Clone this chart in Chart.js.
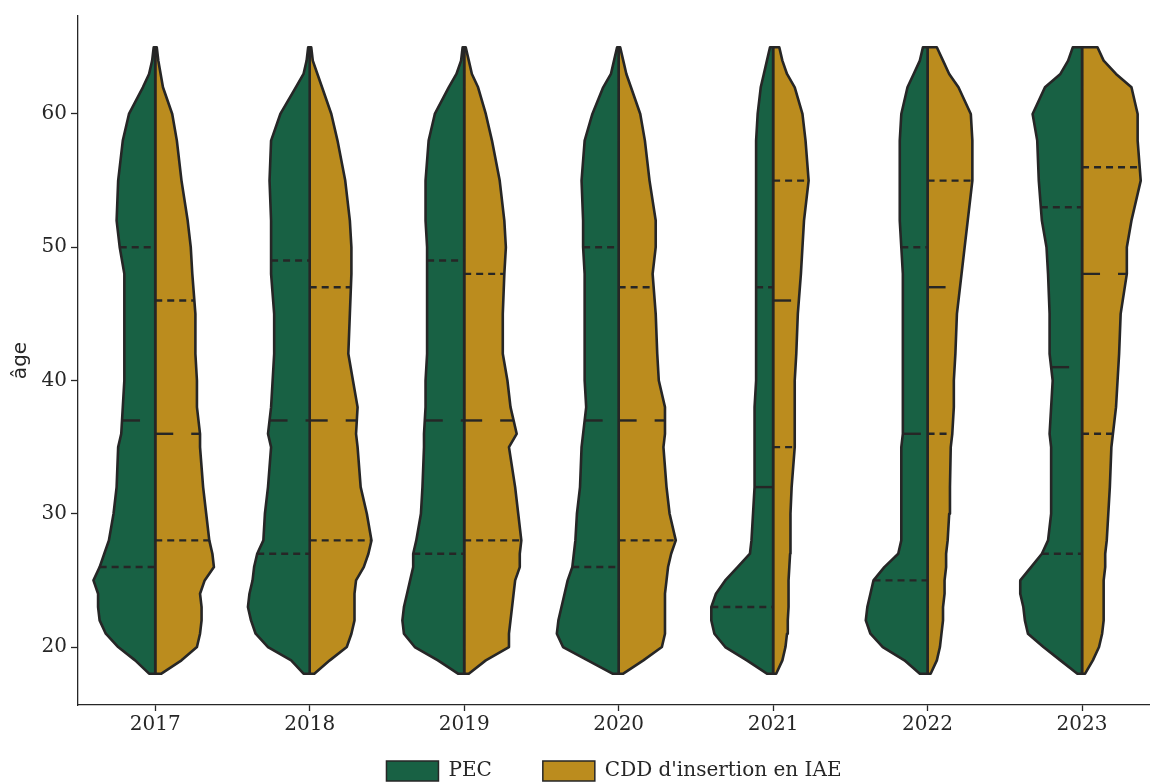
<!DOCTYPE html>
<html><head><meta charset="utf-8">
<script src="https://cdn.jsdelivr.net/npm/chart.js@4.4.1/dist/chart.umd.min.js"></script>
<style>html,body{margin:0;padding:0;background:#fff;}#wrap{width:1150px;height:784px;}</style>
</head><body><div id="wrap"><canvas id="c" width="1150" height="784"></canvas></div>
<script>
// ---- data ----
const YEARS = ['2017','2018','2019','2020','2021','2022','2023'];
const SERIES_LABELS = ['PEC', "CDD d'insertion en IAE"];
const Y_TICKS = [20, 30, 40, 50, 60];
const AGES = [18,19,20,21,22,23,24,25,26,27,28,30,32,35,36,38,40,42,45,48,50,52,55,58,60,62,63,64,65];

// half-widths of each violin half (in category units) at each age of AGES
const PEC_2017 = [0.04,0.13,0.24,0.32,0.36,0.37,0.37,0.40,0.36,0.33,0.30,0.27,0.25,0.24,0.22,0.21,0.20,0.20,0.20,0.20,0.23,0.25,0.24,0.21,0.17,0.08,0.04,0.02,0.01];
const CDD_2017 = [0.04,0.17,0.27,0.29,0.30,0.30,0.29,0.32,0.38,0.37,0.35,0.33,0.31,0.29,0.29,0.27,0.27,0.26,0.26,0.24,0.23,0.21,0.17,0.14,0.11,0.05,0.035,0.02,0.01];
const PEC_2018 = [0.04,0.12,0.27,0.35,0.38,0.40,0.39,0.37,0.36,0.34,0.30,0.29,0.27,0.25,0.27,0.25,0.24,0.23,0.23,0.25,0.25,0.25,0.26,0.25,0.19,0.09,0.04,0.02,0.01];
const CDD_2018 = [0.03,0.13,0.24,0.27,0.29,0.29,0.29,0.30,0.35,0.38,0.40,0.37,0.33,0.31,0.30,0.31,0.28,0.25,0.26,0.27,0.27,0.26,0.23,0.18,0.14,0.08,0.05,0.02,0.01];
const PEC_2019 = [0.04,0.17,0.32,0.39,0.40,0.39,0.37,0.35,0.33,0.33,0.31,0.28,0.27,0.26,0.26,0.25,0.25,0.24,0.24,0.24,0.24,0.25,0.25,0.23,0.19,0.10,0.05,0.02,0.01];
const CDD_2019 = [0.03,0.14,0.29,0.29,0.30,0.31,0.32,0.33,0.36,0.36,0.37,0.35,0.33,0.29,0.34,0.30,0.28,0.25,0.25,0.26,0.27,0.26,0.23,0.18,0.14,0.09,0.05,0.03,0.01];
const PEC_2020 = [0.04,0.20,0.36,0.40,0.39,0.37,0.35,0.33,0.30,0.29,0.28,0.27,0.25,0.24,0.23,0.21,0.22,0.22,0.22,0.22,0.23,0.23,0.24,0.22,0.17,0.10,0.05,0.03,0.01];
const CDD_2020 = [0.03,0.16,0.28,0.30,0.30,0.30,0.30,0.31,0.32,0.34,0.37,0.33,0.31,0.29,0.30,0.30,0.26,0.25,0.24,0.22,0.24,0.24,0.20,0.17,0.14,0.08,0.05,0.03,0.01];
const PEC_2021 = [0.04,0.17,0.31,0.38,0.40,0.40,0.37,0.31,0.23,0.15,0.14,0.13,0.12,0.12,0.12,0.12,0.11,0.11,0.11,0.11,0.11,0.11,0.11,0.11,0.10,0.08,0.06,0.04,0.02];
const CDD_2021 = [0.02,0.06,0.08,0.09,0.095,0.10,0.10,0.10,0.105,0.11,0.11,0.115,0.12,0.14,0.14,0.14,0.14,0.15,0.16,0.18,0.19,0.20,0.23,0.21,0.19,0.14,0.09,0.06,0.04];
const PEC_2022 = [0.05,0.15,0.29,0.37,0.40,0.39,0.37,0.35,0.28,0.19,0.17,0.17,0.17,0.17,0.16,0.16,0.16,0.16,0.16,0.16,0.17,0.18,0.18,0.18,0.17,0.13,0.09,0.05,0.03];
const CDD_2022 = [0.02,0.06,0.08,0.09,0.10,0.10,0.11,0.11,0.12,0.12,0.13,0.14,0.145,0.15,0.16,0.17,0.17,0.18,0.19,0.22,0.24,0.26,0.29,0.29,0.28,0.20,0.14,0.10,0.06];
const PEC_2023 = [0.03,0.14,0.25,0.35,0.37,0.38,0.40,0.40,0.33,0.26,0.22,0.20,0.20,0.20,0.21,0.20,0.19,0.21,0.21,0.22,0.23,0.26,0.28,0.29,0.32,0.24,0.14,0.09,0.06];
const CDD_2023 = [0.02,0.07,0.11,0.13,0.14,0.14,0.14,0.14,0.15,0.15,0.16,0.17,0.18,0.19,0.20,0.22,0.23,0.24,0.25,0.29,0.29,0.32,0.38,0.36,0.36,0.32,0.22,0.14,0.10];

// quartiles (Q1, median, Q3) per year
const PEC_Q1  = [26, 27, 27, 26, 23, 25, 27];
const PEC_MED = [37, 37, 37, 37, 32, 36, 41];
const PEC_Q3  = [50, 49, 49, 50, 47, 50, 53];
const CDD_Q1  = [28, 28, 28, 28, 35, 36, 36];
const CDD_MED = [36, 37, 37, 37, 46, 47, 48];
const CDD_Q3  = [46, 47, 48, 47, 55, 55, 56];

// ---- styling ----
const PEC_COLOR = '#186144';
const CDD_COLOR = '#bb8c1e';
const EDGE = '#262626';
const MED_DASH = [18, 18];
const QUART_DASH = [7, 5];

const PEC_DENS = [PEC_2017, PEC_2018, PEC_2019, PEC_2020, PEC_2021, PEC_2022, PEC_2023];
const CDD_DENS = [CDD_2017, CDD_2018, CDD_2019, CDD_2020, CDD_2021, CDD_2022, CDD_2023];

function widthAt(dens, q) {
  for (let k = 0; k < AGES.length - 1; k++) {
    if (q >= AGES[k] && q <= AGES[k + 1]) {
      const t = (q - AGES[k]) / (AGES[k + 1] - AGES[k]);
      return dens[k] + t * (dens[k + 1] - dens[k]);
    }
  }
  return 0;
}

function halfViolin(i, dens, side, color) {
  const pts = [{x: i, y: AGES[0]}];
  AGES.forEach((a, k) => pts.push({x: i + side * dens[k], y: a}));
  pts.push({x: i, y: AGES[AGES.length - 1]});
  pts.push({x: i, y: AGES[0]});
  return {data: pts, showLine: true, fill: 'shape', backgroundColor: color,
    borderColor: EDGE, borderWidth: 2.6, borderJoinStyle: 'round', borderCapStyle: 'round',
    pointRadius: 0, tension: 0, order: 2};
}

function qLine(i, dens, side, q, dash) {
  const w = widthAt(dens, q);
  const pts = side < 0 ? [{x: i - w, y: q}, {x: i, y: q}] : [{x: i, y: q}, {x: i + w, y: q}];
  return {data: pts, showLine: true, fill: false, borderColor: EDGE, borderWidth: 2.4,
    borderDash: dash, borderCapStyle: 'butt', pointRadius: 0, tension: 0, order: 1};
}

const datasets = [];
YEARS.forEach((y, i) => {
  datasets.push(halfViolin(i, PEC_DENS[i], -1, PEC_COLOR));
  datasets.push(halfViolin(i, CDD_DENS[i], 1, CDD_COLOR));
});
YEARS.forEach((y, i) => {
  datasets.push(qLine(i, PEC_DENS[i], -1, PEC_Q1[i], QUART_DASH));
  datasets.push(qLine(i, PEC_DENS[i], -1, PEC_MED[i], MED_DASH));
  datasets.push(qLine(i, PEC_DENS[i], -1, PEC_Q3[i], QUART_DASH));
  datasets.push(qLine(i, CDD_DENS[i], 1, CDD_Q1[i], QUART_DASH));
  datasets.push(qLine(i, CDD_DENS[i], 1, CDD_MED[i], MED_DASH));
  datasets.push(qLine(i, CDD_DENS[i], 1, CDD_Q3[i], QUART_DASH));
});

Chart.defaults.font.family = 'DejaVu Serif';
Chart.defaults.color = EDGE;

new Chart(document.getElementById('c'), {
  type: 'scatter',
  data: {datasets},
  options: {
    responsive: false,
    devicePixelRatio: 1,
    animation: false,
    events: [],
    layout: {padding: {top: 15, right: 0, bottom: 0, left: 0}},
    scales: {
      x: {
        type: 'linear', min: -0.5, max: 6.44,
        afterFit: (s) => { s.height = 5; },
        afterBuildTicks: (s) => { s.ticks = YEARS.map((_, i) => ({value: i})); },
        ticks: {callback: (v) => YEARS[v], font: {size: 20}, color: EDGE, mirror: true, padding: -32, autoSkip: false, maxRotation: 0},
        grid: {display: true, drawOnChartArea: false, drawTicks: true, tickLength: 6, tickWidth: 1.3, color: EDGE},
        border: {display: true, color: EDGE, width: 1.3}
      },
      y: {
        type: 'linear', min: 15.65, max: 67.35,
        afterFit: (s) => { s.width = 78; },
        afterBuildTicks: (s) => { s.ticks = Y_TICKS.map(v => ({value: v})); },
        ticks: {font: {size: 20}, color: EDGE, padding: 4},
        grid: {display: true, drawOnChartArea: false, drawTicks: true, tickLength: 7, tickWidth: 1.3, color: EDGE},
        border: {display: true, color: EDGE, width: 1.3},
        title: {display: true, text: 'âge', font: {family: 'DejaVu Sans', size: 20}, color: EDGE, padding: {top: 9, bottom: 0}}
      }
    },
    plugins: {
      tooltip: {enabled: false},
      legend: {
        position: 'bottom', fullSize: false, maxHeight: 74, align: 'center',
        labels: {
          boxWidth: 52, boxHeight: 20, padding: 51, color: EDGE,
          font: {family: 'DejaVu Serif', size: 20},
          generateLabels: () => [
            {text: SERIES_LABELS[0], fillStyle: PEC_COLOR, strokeStyle: EDGE, lineWidth: 1.5, hidden: false, datasetIndex: 0, fontColor: EDGE},
            {text: SERIES_LABELS[1], fillStyle: CDD_COLOR, strokeStyle: EDGE, lineWidth: 1.5, hidden: false, datasetIndex: 1, fontColor: EDGE}
          ]
        }
      }
    }
  }
});
</script>
</body></html>
